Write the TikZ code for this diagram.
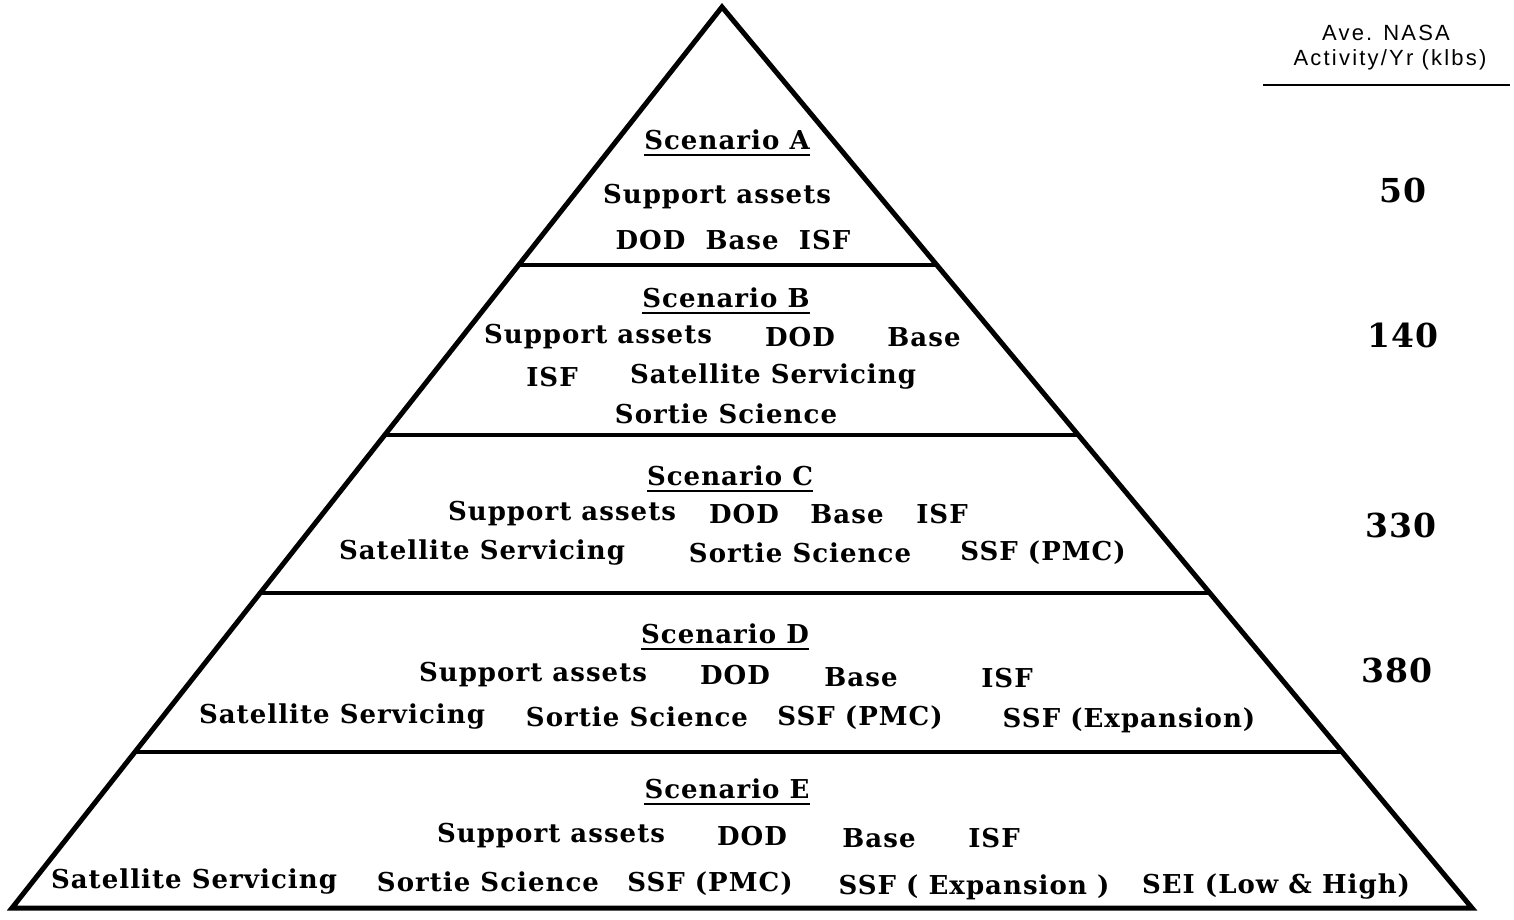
\documentclass[tikz,border=0pt]{standalone}
\usepackage{fontspec}
\setmainfont[LetterSpace=4]{DejaVu Serif}
\newfontfamily\headfont[LetterSpace=10]{Liberation Sans}
\usetikzlibrary{calc, positioning}
\newcommand{\drawUnderline}[1]{\draw[line width=2pt] ([yshift=-5pt]#1.base west) -- ([yshift=-5pt]#1.base east);}
\tikzset{x=1pt, y=-1pt,
    edge/.style={line width=5pt, line join=miter},
    layer/.style={line width=3.5pt},
    word/.style={inner sep=0pt, font=\fontsize{26}{29}\selectfont\bfseries},
    title/.style={word},
    amount/.style={inner sep=0pt, font=\fontsize{33}{36}\selectfont\bfseries},
    header/.style={inner sep=0pt, font=\fontsize{22}{25}\selectfont\headfont}}

\begin{document}
\begin{tikzpicture}
\useasboundingbox (0,0) rectangle (1514,920);
% pyramid outline
\coordinate (top) at (722,7);
\coordinate (bl)  at (12,908);
\coordinate (br)  at (1472,908);
\draw[edge] (top) -- (bl) -- (br) -- cycle;
\foreach \t in {0.2863, 0.4750, 0.6504, 0.8269}
    \draw[layer] ($(top)!\t!(bl)$) -- ($(top)!\t!(br)$);

% header
\node[header] (h1) at (1386,33) {Ave. NASA};
\node[header] (h2) at (1390,60) {Activity/Yr (klbs)};
\coordinate (hl) at (1263,85);
\coordinate (hr) at (1510,85);
\draw[line width=2pt] (hl) -- (hr);

% scenario A
\node[title] (sa)  at (727,140) {Scenario A};
\node[word]  (a1)  at (717,197) {Support assets};
\node[word]  (a2)  at (733,240) {DOD\ \ Base\ \ ISF};
\node[amount] (na) at (1403,190) {50};

% scenario B
\node[title] (sb)  at (726,298) {Scenario B};
\node[word]  (b1)  at (598,337) {Support assets};
\node[word]  (b2)  at (800,337) {DOD};
\node[word]  (b3)  at (924,337) {Base};
\node[word]  (b4)  at (552,377) {ISF};
\node[word]  (b5)  at (773,377) {Satellite Servicing};
\node[word]  (b6)  at (726,414) {Sortie Science};
\node[amount] (nb) at (1403,335) {140};

% scenario C
\node[title] (sc)  at (730,476) {Scenario C};
\node[word]  (c1)  at (562,514) {Support assets};
\node[word]  (c2)  at (744,514) {DOD};
\node[word]  (c3)  at (847,514) {Base};
\node[word]  (c4)  at (942,514) {ISF};
\node[word]  (c5)  at (482,553) {Satellite Servicing};
\node[word]  (c6)  at (800,553) {Sortie Science};
\node[word]  (c7)  at (1043,553) {SSF (PMC)};
\node[amount] (nc) at (1401,525) {330};

% scenario D
\node[title] (sd)  at (725,634) {Scenario D};
\node[word]  (d1)  at (533,675) {Support assets};
\node[word]  (d2)  at (735,675) {DOD};
\node[word]  (d3)  at (861,677) {Base};
\node[word]  (d4)  at (1007,678) {ISF};
\node[word]  (d5)  at (342,717) {Satellite Servicing};
\node[word]  (d6)  at (637,717) {Sortie Science};
\node[word]  (d7)  at (860,718) {SSF (PMC)};
\node[word]  (d8)  at (1129,720) {SSF (Expansion)};
\node[amount] (nd) at (1397,670) {380};

% scenario E
\node[title] (se)  at (727,789) {Scenario E};
\node[word]  (e1)  at (551,836) {Support assets};
\node[word]  (e2)  at (752,836) {DOD};
\node[word]  (e3)  at (879,838) {Base};
\node[word]  (e4)  at (994,838) {ISF};
\node[word]  (e5)  at (194,882) {Satellite Servicing};
\node[word]  (e6)  at (488,882) {Sortie Science};
\node[word]  (e7)  at (710,884) {SSF (PMC)};
\node[word]  (e8)  at (974,887) {SSF ( Expansion )};
\node[word]  (e9)  at (1276,887) {SEI (Low \& High)};

\foreach \n in {sa,sb,sc,sd,se}
    {\drawUnderline{\n}}
\end{tikzpicture}
\end{document}
